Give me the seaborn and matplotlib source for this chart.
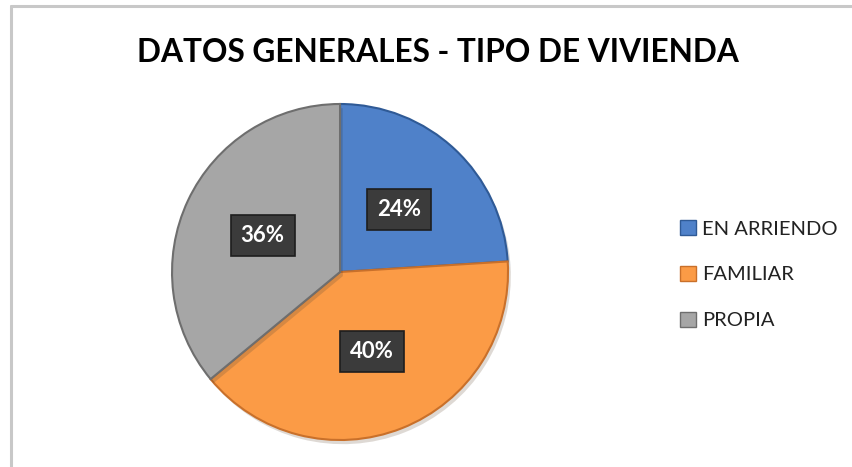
import numpy as np
import seaborn as sns
import matplotlib.pyplot as plt
import matplotlib.patheffects as pe
from matplotlib.lines import Line2D

categories = ['EN ARRIENDO', 'FAMILIAR', 'PROPIA']
percentages = [24, 40, 36]
colors = ['#4f81c9', '#fb9b46', '#a6a6a6']
edge_colors = ['#2f5a96', '#c9702a', '#6e6e6e']

sns.set_theme(style='white')
plt.rcParams['font.family'] = ['Lato', 'DejaVu Sans']

fig = plt.figure(figsize=(8.52, 4.67), dpi=100)
fig.patch.set_facecolor('white')

# chart frame (only top and left show in the crop)
fig.add_artist(Line2D([10.5 / 852, 10.5 / 852], [0, 1 - 5.5 / 467],
                      color='#c8c8c8', lw=2.2, transform=fig.transFigure))
fig.add_artist(Line2D([10.5 / 852, 1], [1 - 5.5 / 467, 1 - 5.5 / 467],
                      color='#c8c8c8', lw=2.2, transform=fig.transFigure))

ax = fig.add_axes([0.2019, 0.0578, 0.3944, 0.7195])
wedges, texts, autotexts = ax.pie(
    percentages, colors=colors, startangle=90, counterclock=False,
    autopct=lambda p: f'{p:.0f}%', pctdistance=0.51,
    wedgeprops=dict(linewidth=1.5),
    textprops=dict(color='white', fontsize=16, fontweight='bold'))
for w, ec in zip(wedges, edge_colors):
    w.set_edgecolor(ec)
    w.set_path_effects([pe.SimplePatchShadow(offset=(2, -3), alpha=0.18), pe.Normal()])
for t in autotexts:
    t.set_bbox(dict(boxstyle='square,pad=0.45', facecolor='#3b3b3b',
                    edgecolor='#1e1e1e', linewidth=1.2))
ax.set_xlim(-1, 1)
ax.set_ylim(-1, 1)
ax.set_aspect('equal')

fig.text(0.514, 0.887, 'DATOS GENERALES - TIPO DE VIVIENDA',
         ha='center', va='center', fontsize=22.8, fontweight='bold', color='black')

handles = [plt.Rectangle((0, 0), 1, 1, facecolor=c, edgecolor=e, linewidth=1)
           for c, e in zip(colors, edge_colors)]
leg = fig.legend(handles, categories, loc='center left',
                 bbox_to_anchor=(0.777, 0.412), frameon=False,
                 fontsize=14.5, handlelength=0.8, handleheight=0.8,
                 handletextpad=0.3, labelspacing=1.4)
for t in leg.get_texts():
    t.set_color('#222222')

fig.savefig('out.png', dpi=100, facecolor='white')
